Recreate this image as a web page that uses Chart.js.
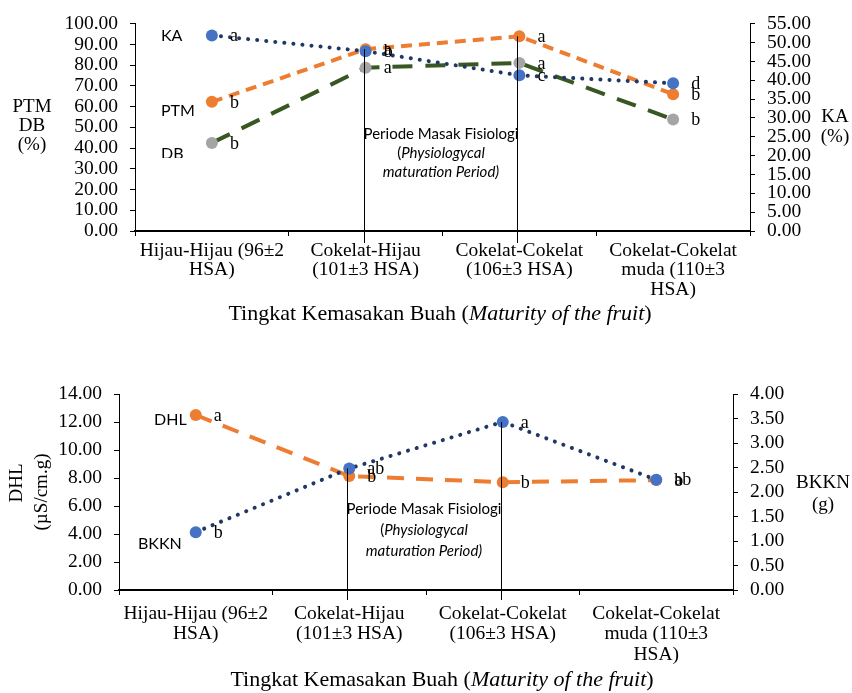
<!DOCTYPE html>
<html>
<head>
<meta charset="utf-8">
<script src="https://cdn.jsdelivr.net/npm/chart.js@4.4.1/dist/chart.umd.min.js"></script>
<style>
  html, body { margin: 0; padding: 0; background: #fff; }
  #wrap { position: relative; width: 852px; height: 693px; }
  .box { position: absolute; left: 0; width: 852px; }
</style>
</head>
<body>
<div id="wrap">
  <div class="box" style="top:0;height:340px"><canvas id="chartTop" width="852" height="340"></canvas></div>
  <div class="box" style="top:340px;height:353px"><canvas id="chartBottom" width="852" height="353"></canvas></div>
</div>
<script>
// ---- Data ----
const categories = [
  ['Hijau-Hijau (96±2', 'HSA)'],
  ['Cokelat-Hijau', '(101±3 HSA)'],
  ['Cokelat-Cokelat', '(106±3 HSA)'],
  ['Cokelat-Cokelat', 'muda (110±3', 'HSA)']
];

// top chart: PTM & DB on left axis (%), KA on right axis (%)
const ptm = [62.3, 87.7, 93.9, 66.0];
const db  = [42.5, 78.8, 81.1, 53.8];
const ka  = [51.9, 47.7, 41.3, 39.2];
const ptmLetters = ['b', 'a', 'a', 'b'];
const dbLetters  = ['b', 'a', 'a', 'b'];
const kaLetters  = ['a', 'b', 'c', 'd'];
const topLeftTicks  = [0, 100, 10];   // min, max, step
const topRightTicks = [0, 55, 5];

// bottom chart: DHL on left axis, BKKN on right axis
const dhl  = [12.5, 8.14, 7.7, 7.85];
const bkkn = [1.18, 2.48, 3.43, 2.25];
const dhlLetters  = ['a', 'b', 'b', 'b'];
const bkknLetters = ['b', 'ab', 'a', 'ab'];
const bottomLeftTicks  = [0, 14, 2];
const bottomRightTicks = [0, 4, 0.5];

// ---- Styles ----
const serif = "'Liberation Serif', 'Times New Roman', serif";
const sans = "Lato, 'Open Sans', sans-serif";
const BLUE = '#4472C4', NAVY = '#1F3864', ORANGE = '#ED7D31', GREEN = '#385723', GREY = '#A5A5A5';

// draw a line of text made of runs [text, italic]
function drawRuns(ctx, runs, x, y, size, family, align) {
  const fonts = runs.map(r => `${r[1] ? 'italic ' : ''}${size}px ${family}`);
  let total = 0;
  const widths = runs.map((r, i) => { ctx.font = fonts[i]; const w = ctx.measureText(r[0]).width; total += w; return w; });
  let cx = align === 'left' ? x : x - total / 2;
  ctx.textAlign = 'left';
  runs.forEach((r, i) => { ctx.font = fonts[i]; ctx.fillText(r[0], cx, y); cx += widths[i]; });
}

const annotate = {
  id: 'annotate',
  afterDatasetsDraw(chart, args, opts) {
    const ctx = chart.ctx;
    const xs = chart.scales.x;
    ctx.save();
    ctx.fillStyle = '#000';
    ctx.textBaseline = 'middle';

    // physiological maturation period lines
    opts.periodAt.forEach(i => {
      const px = Math.round(xs.getPixelForValue(i)) - 1.5;
      let top = Infinity;
      chart.data.datasets.forEach((ds, k) => { top = Math.min(top, chart.getDatasetMeta(k).data[i].y); });
      ctx.strokeStyle = '#000';
      ctx.lineWidth = 1;
      ctx.beginPath();
      ctx.moveTo(px, top);
      ctx.lineTo(px, chart.chartArea.bottom + opts.lineBelow);
      ctx.stroke();
    });

    // significance letters
    ctx.font = `18px ${serif}`;
    ctx.textAlign = 'left';
    chart.data.datasets.forEach((ds, k) => {
      const meta = chart.getDatasetMeta(k);
      ds.letters.forEach((t, i) => {
        const p = meta.data[i];
        ctx.fillText(t, p.x + 18, p.y + 1);
      });
    });

    // free texts
    opts.texts.forEach(t => {
      ctx.save();
      if (t.clipBottom) {
        ctx.beginPath();
        ctx.rect(0, 0, chart.width, t.clipBottom);
        ctx.clip();
      }
      if (t.rot) {
        ctx.translate(t.x, t.y);
        ctx.rotate(-Math.PI / 2);
        drawRuns(ctx, t.runs, 0, 0, t.size, t.family, 'center');
      } else {
        drawRuns(ctx, t.runs, t.x, t.y, t.size, t.family, t.align || 'center');
      }
      ctx.restore();
    });
    ctx.restore();
  }
};

function dotted(color) {
  return { borderColor: color, borderWidth: 4, borderDash: [0.1, 9], borderCapStyle: 'round' };
}
function dashed(color, dash) {
  return { borderColor: color, borderWidth: 4, borderDash: dash, borderCapStyle: 'butt' };
}
function markers(color) {
  return { pointBackgroundColor: color, pointBorderColor: color, pointRadius: 6, pointBorderWidth: 0 };
}

function yAxis(range, pos, width, pad) {
  return {
    type: 'linear', position: pos,
    min: range[0], max: range[1],
    afterFit: s => { s.width = width; },
    afterBuildTicks: s => {
      const t = [];
      for (let v = range[0]; v <= range[1] + 1e-9; v += range[2]) t.push({ value: +v.toFixed(2) });
      s.ticks = t;
    },
    ticks: {
      callback: v => Number(v).toFixed(2),
      autoSkip: false,
      color: '#000', padding: pad,
      font: { family: serif, size: 19.5 }
    },
    grid: { drawOnChartArea: false, drawTicks: true, tickLength: 5, color: '#000' },
    border: { color: '#000', width: 1 }
  };
}

function xAxis(height, pad, lh) {
  return {
    type: 'category',
    offset: true,
    afterFit: s => { s.height = height; },
    ticks: {
      color: '#000', padding: pad, maxRotation: 0, autoSkip: false,
      font: { family: serif, size: 19.5, lineHeight: lh }
    },
    grid: { drawOnChartArea: false, drawTicks: true, tickLength: 5, color: '#000', offset: true },
    border: { color: '#000', width: 2 }
  };
}

// ---- Top chart ----
new Chart(document.getElementById('chartTop'), {
  type: 'line',
  data: {
    labels: categories,
    datasets: [
      Object.assign({ label: 'KA', data: ka, letters: kaLetters, yAxisID: 'y1', order: 0 }, dotted(NAVY), markers(BLUE)),
      Object.assign({ label: 'PTM', data: ptm, letters: ptmLetters, yAxisID: 'y', order: 1 }, dashed(ORANGE, [11, 7]), markers(ORANGE)),
      Object.assign({ label: 'DB', data: db, letters: dbLetters, yAxisID: 'y', order: 2 }, dashed(GREEN, [20, 13]), markers(GREY))
    ]
  },
  options: {
    responsive: false, animation: false,
    layout: { padding: { top: 19, left: 0, right: 0, bottom: 0 } },
    scales: {
      x: xAxis(109, 5, 1.0),
      y: yAxis(topLeftTicks, 'left', 135, 12),
      y1: yAxis(topRightTicks, 'right', 102, 12)
    },
    plugins: {
      legend: { display: false },
      tooltip: { enabled: false },
      annotate: {
        periodAt: [1, 2],
        lineBelow: 12,
        texts: [
          { runs: [['KA', false]], x: 161, y: 36, size: 16, family: sans, align: 'left' },
          { runs: [['PTM', false]], x: 161, y: 111, size: 16, family: sans, align: 'left' },
          { runs: [['DB', false]], x: 161, y: 154, size: 16, family: sans, align: 'left', clipBottom: 158 },
          { runs: [['Periode Masak Fisiologi', false]], x: 441, y: 134, size: 15, family: sans },
          { runs: [['(', false], ['Physiologycal', true]], x: 441, y: 153, size: 15, family: sans },
          { runs: [['maturation Period)', true]], x: 441, y: 172, size: 15, family: sans },
          { runs: [['PTM', false]], x: 32, y: 107, size: 19, family: serif },
          { runs: [['DB', false]], x: 32, y: 126, size: 19, family: serif },
          { runs: [['(%)', false]], x: 32, y: 145, size: 19, family: serif },
          { runs: [['KA', false]], x: 835, y: 117, size: 19, family: serif },
          { runs: [['(%)', false]], x: 835, y: 137, size: 19, family: serif },
          { runs: [['Tingkat Kemasakan Buah (', false], ['Maturity of the fruit', true], [')', false]], x: 440, y: 314, size: 22, family: serif }
        ]
      }
    }
  },
  plugins: [annotate]
});

// ---- Bottom chart ----
new Chart(document.getElementById('chartBottom'), {
  type: 'line',
  data: {
    labels: categories,
    datasets: [
      Object.assign({ label: 'BKKN', data: bkkn, letters: bkknLetters, yAxisID: 'y1', order: 0 }, dotted(NAVY), markers(BLUE)),
      Object.assign({ label: 'DHL', data: dhl, letters: dhlLetters, yAxisID: 'y', order: 1 }, dashed(ORANGE, [17, 12]), markers(ORANGE))
    ]
  },
  options: {
    responsive: false, animation: false,
    layout: { padding: { top: 54, left: 0, right: 0, bottom: 0 } },
    scales: {
      x: xAxis(103, 8, 1.07),
      y: yAxis(bottomLeftTicks, 'left', 119, 12),
      y1: yAxis(bottomRightTicks, 'right', 119, 12)
    },
    plugins: {
      legend: { display: false },
      tooltip: { enabled: false },
      annotate: {
        periodAt: [1, 2],
        lineBelow: 10,
        texts: [
          { runs: [['DHL', false]], x: 154, y: 80, size: 16, family: sans, align: 'left' },
          { runs: [['BKKN', false]], x: 138, y: 204, size: 16, family: sans, align: 'left' },
          { runs: [['Periode Masak Fisiologi', false]], x: 424, y: 169, size: 15, family: sans },
          { runs: [['(', false], ['Physiologycal', true]], x: 424, y: 190, size: 15, family: sans },
          { runs: [['maturation Period)', true]], x: 424, y: 211, size: 15, family: sans },
          { runs: [['DHL', false]], x: 17, y: 143, size: 19, family: serif, rot: true },
          { runs: [['(µS/cm.g)', false]], x: 42, y: 152, size: 19, family: serif, rot: true },
          { runs: [['BKKN', false]], x: 823, y: 143, size: 19, family: serif },
          { runs: [['(g)', false]], x: 823, y: 165, size: 19, family: serif },
          { runs: [['Tingkat Kemasakan Buah (', false], ['Maturity of the fruit', true], [')', false]], x: 442, y: 340, size: 22, family: serif }
        ]
      }
    }
  },
  plugins: [annotate]
});
</script>
</body>
</html>
